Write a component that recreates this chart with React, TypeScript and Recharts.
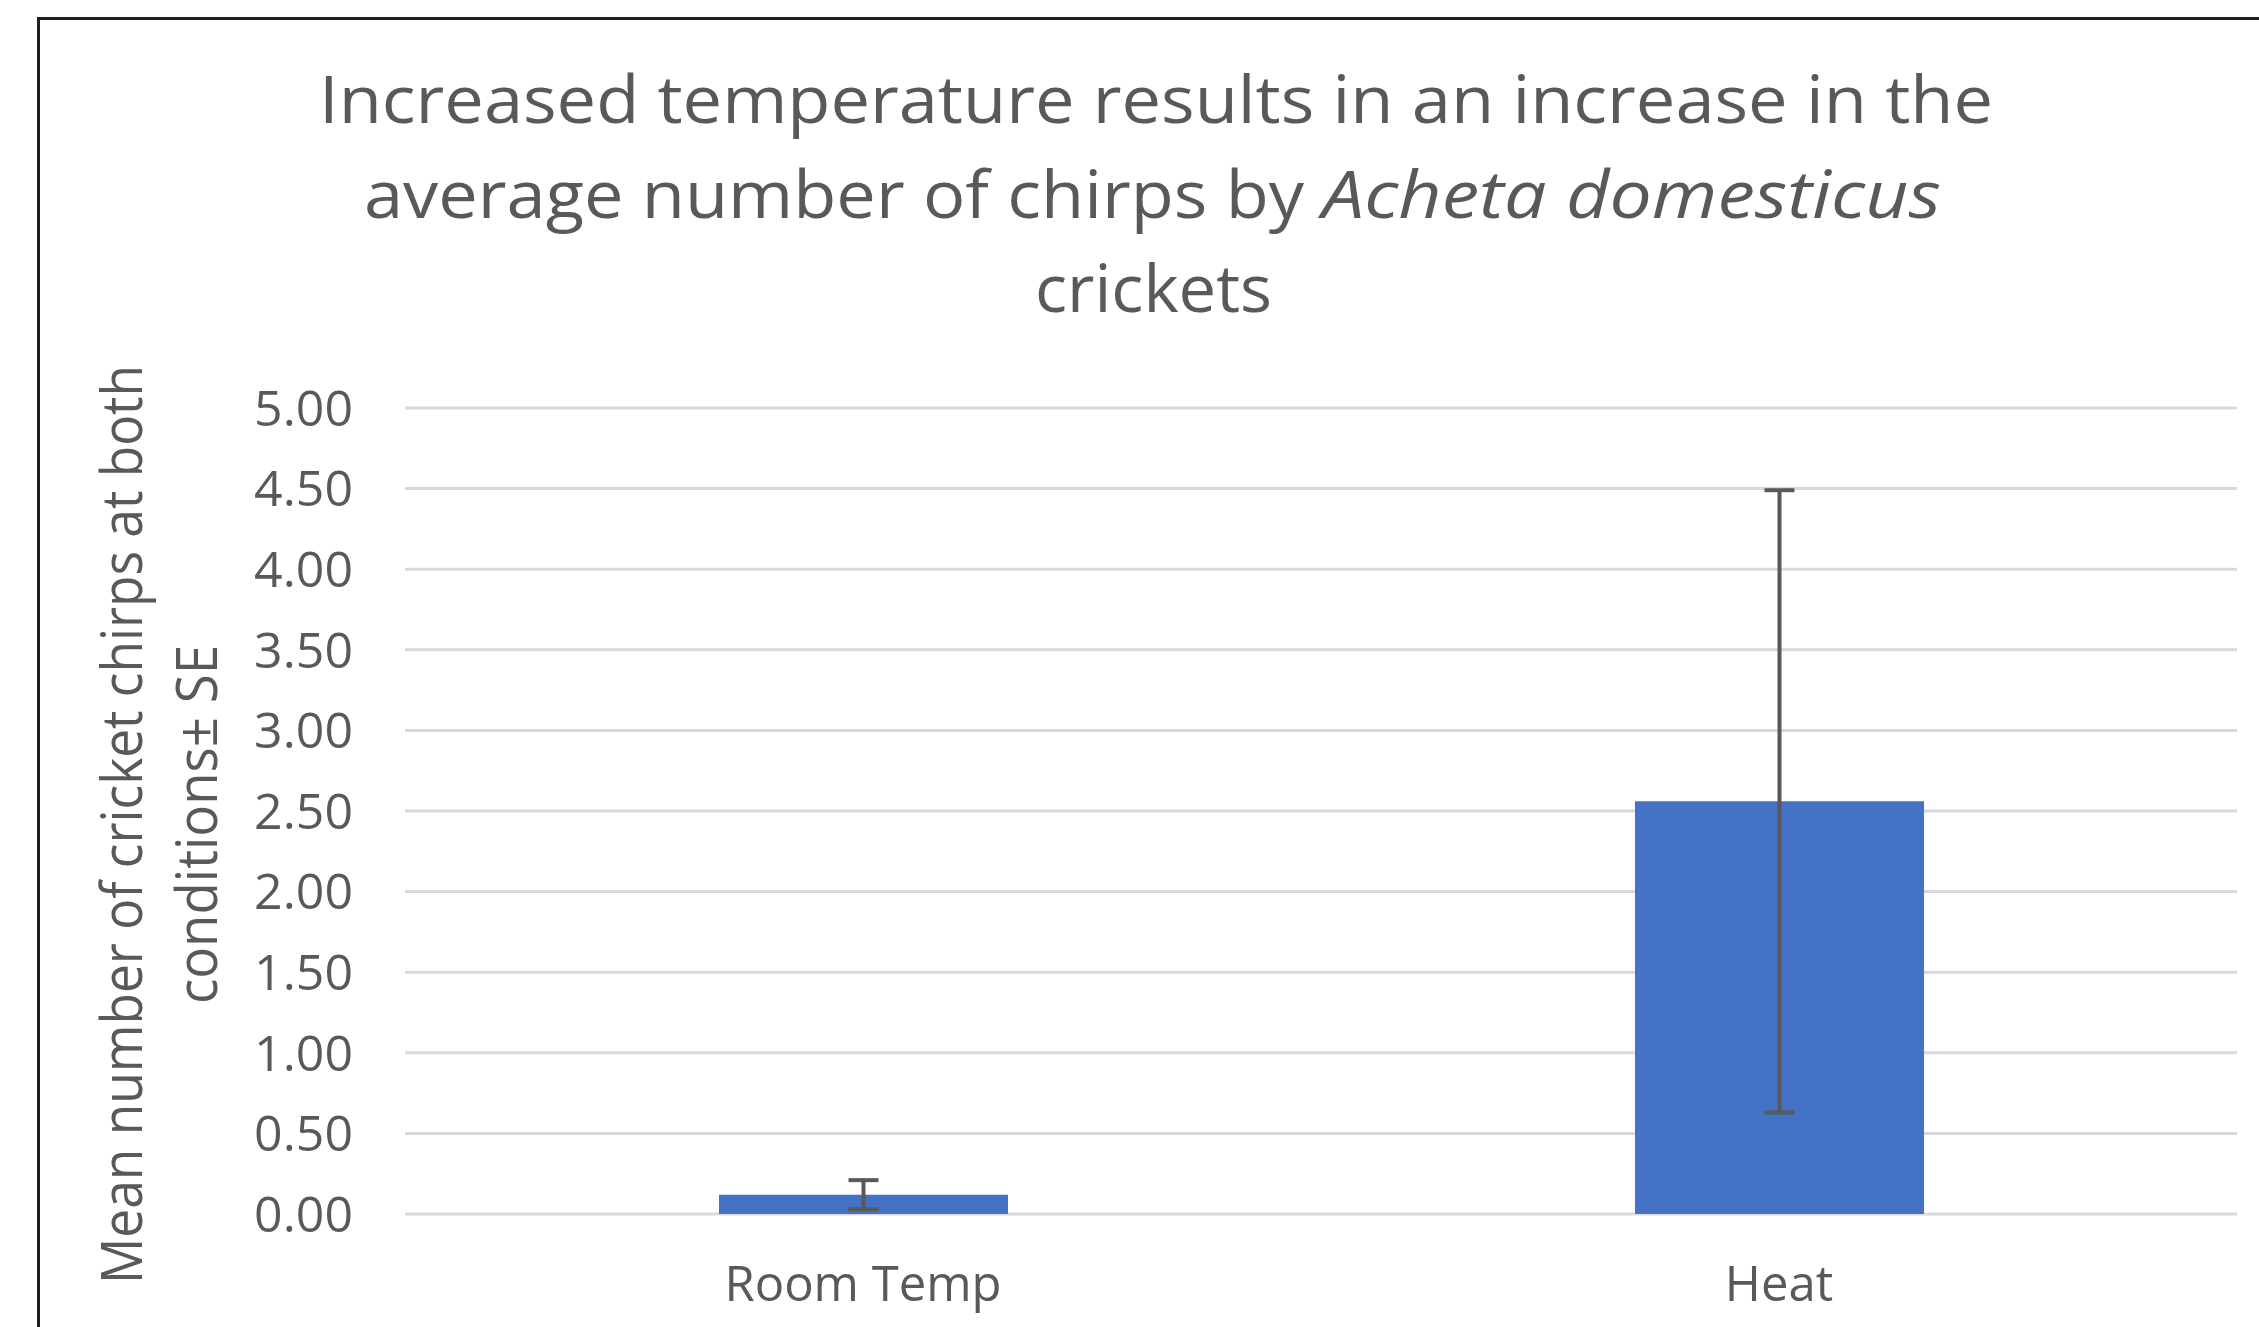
import React from "react";
import { BarChart, Bar, XAxis, YAxis, CartesianGrid, ErrorBar } from "recharts";

const categories = ["Room Temp", "Heat"];
const meanChirps = [0.12, 2.56];
const standardErrors = [0.09, 1.93];
const yTicks = [0, 0.5, 1, 1.5, 2, 2.5, 3, 3.5, 4, 4.5, 5];

const titleLine1 = "Increased temperature results in an increase in the";
const titleLine2 = "average number of chirps by";
const titleItalic = "Acheta domesticus";
const titleLine3 = "crickets";
const yLabelLine1 = "Mean number of cricket chirps at both";
const yLabelLine2 = "conditions± SE";

const data = categories.map((name, i) => ({
  name,
  mean: meanChirps[i],
  se: standardErrors[i],
}));

const FONT = "'Open Sans', 'Noto Sans', sans-serif";
const GRAY = "#595959";

export default function App() {
  return (
    <div
      style={{
        position: "fixed",
        left: 0,
        top: 0,
        width: 2259,
        height: 1327,
        overflow: "hidden",
        background: "#ffffff",
        fontFamily: FONT,
      }}
    >
      <div
        style={{
          position: "absolute",
          left: 37,
          top: 17,
          width: 2400,
          height: 1500,
          border: "3px solid #1e1e1e",
          boxSizing: "border-box",
        }}
      />
      <div style={{ position: "absolute", left: 0, top: 0 }}>
        <BarChart
          width={2259}
          height={1327}
          data={data}
          margin={{ top: 408, right: 22, bottom: 13, left: 255 }}
          barSize={289}
        >
          <CartesianGrid vertical={false} stroke="#d9d9d9" strokeWidth={3} />
          <XAxis
            dataKey="name"
            axisLine={false}
            tickLine={false}
            tickSize={0}
            tickMargin={52}
            height={100}
            tick={{ fill: GRAY, fontSize: 49, fontFamily: FONT }}
          />
          <YAxis
            width={150}
            domain={[0, 5]}
            ticks={yTicks}
            interval={0}
            axisLine={false}
            tickLine={false}
            tickSize={0}
            tickMargin={52}
            tickFormatter={(v: number) => v.toFixed(2)}
            tick={{ fill: GRAY, fontSize: 50, fontFamily: FONT }}
          />
          <Bar dataKey="mean" fill="#4472C4" isAnimationActive={false}>
            <ErrorBar
              dataKey="se"
              width={15}
              stroke={GRAY}
              strokeWidth={4}
              direction="y"
              isAnimationActive={false}
            />
          </Bar>
        </BarChart>
      </div>
      <svg
        width={2259}
        height={1327}
        style={{ position: "absolute", left: 0, top: 0, pointerEvents: "none" }}
      >
        <g fill={GRAY} fontFamily={FONT} fontSize={66}>
          <text x={1156} y={123} textAnchor="middle" textLength={1674} lengthAdjust="spacingAndGlyphs">
            {titleLine1}
          </text>
          <text x={364} y={218} textAnchor="start" textLength={940} lengthAdjust="spacingAndGlyphs">
            {titleLine2}
          </text>
          <text
            x={1322}
            y={218}
            textAnchor="start"
            fontStyle="italic"
            textLength={619}
            lengthAdjust="spacingAndGlyphs"
          >
            {titleItalic}
          </text>
          <text x={1153.5} y={312} textAnchor="middle" textLength={237} lengthAdjust="spacingAndGlyphs">
            {titleLine3}
          </text>
        </g>
        <g fill={GRAY} fontFamily={FONT} fontSize={56} textAnchor="middle">
          <text
            transform="translate(142, 824.5) rotate(-90)"
            textLength={919}
            lengthAdjust="spacingAndGlyphs"
          >
            {yLabelLine1}
          </text>
          <text
            transform="translate(217, 824.5) rotate(-90)"
            textLength={359}
            lengthAdjust="spacingAndGlyphs"
          >
            {yLabelLine2}
          </text>
        </g>
      </svg>
    </div>
  );
}
